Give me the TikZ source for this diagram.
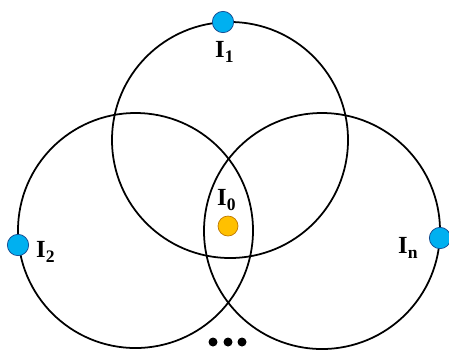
\documentclass[tikz,border=0pt]{standalone}
\usepackage{fontspec}
\setmainfont{Liberation Serif}
\usepackage{xcolor}
\definecolor{dotblue}{RGB}{0,176,240}
\definecolor{dotblueline}{RGB}{20,70,140}
\definecolor{dotorange}{RGB}{255,192,0}
\definecolor{dotorangeline}{RGB}{190,120,0}
\usetikzlibrary{positioning}
\newcommand{\ilabel}[1]{\textbf{I\raisebox{-5pt}{\fontsize{15}{15}\selectfont #1}}}
\tikzset{
  ring/.style={draw=black, line width=1.5pt},
  srcdot/.style={circle, draw=dotblueline, fill=dotblue, line width=0.6pt, inner sep=0pt, minimum size=6.4mm},
  tgtdot/.style={circle, draw=dotorangeline, fill=dotorange, line width=0.6pt, inner sep=0pt, minimum size=6mm},
  moredot/.style={circle, fill=black, inner sep=0pt, minimum size=2.7mm},
  lbl/.style={font=\fontsize{21}{25}\selectfont, inner sep=0pt}
}
\begin{document}
\begin{tikzpicture}[x=0.3mm, y=-0.3mm]
  \useasboundingbox (0,0) rectangle (449,349);

  % Circles
  \draw[ring] (230,140) circle[radius=118];
  \draw[ring] (135.5,230.5) circle[radius=117.5];
  \draw[ring] (322,231) circle[radius=118];

  % Points on circles
  \node[srcdot] (p1) at (223,22) {};
  \node[srcdot] (p2) at (18,245) {};
  \node[srcdot] (pn) at (440,238) {};
  \node[tgtdot] (p0) at (228,226) {};

  % Labels
  \node[lbl, anchor=base west] (l1) at (215,57) {\ilabel{1}};
  \node[lbl, anchor=base west] (l2) at (36,257) {\ilabel{2}};
  \node[lbl, anchor=base west] (ln) at (398,253) {\ilabel{n}};
  \node[lbl, anchor=base west] (l0) at (217,205) {\ilabel{0}};

  % More
  \node[moredot] (m1) at (213,342) {};
  \node[moredot] (m2) at (228,342) {};
  \node[moredot] (m3) at (242,342) {};
\end{tikzpicture}
\end{document}
